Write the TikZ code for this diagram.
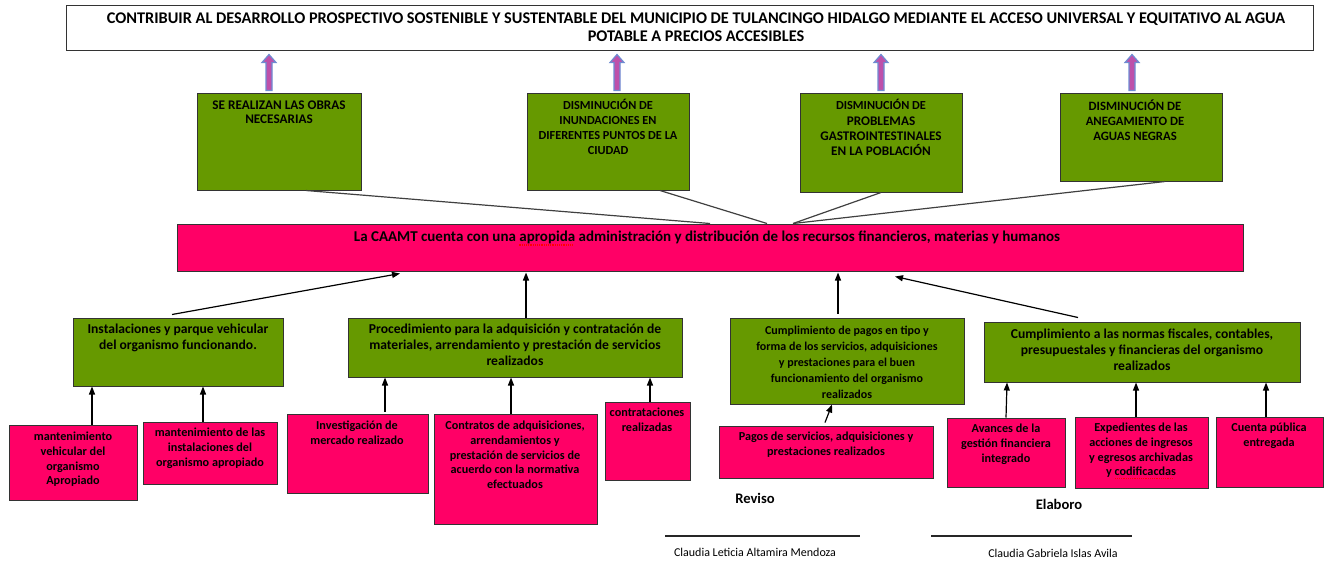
\documentclass[tikz,border=0pt]{standalone}
\usepackage{fontspec}
\setmainfont{Carlito}
\usetikzlibrary{fit,calc,arrows.meta}
\definecolor{gfill}{RGB}{102,153,0}
\definecolor{pfill}{RGB}{255,0,102}
\definecolor{afill}{RGB}{190,80,170}
\definecolor{aline}{RGB}{110,140,210}
\newcommand\spellerr[1]{\setbox0\hbox{#1}\rlap{\color{red}\leaders\hbox{\rule[-1.8pt]{0.6pt}{0.6pt}\hskip0.5pt}\hskip\wd0}\box0\relax}
\begin{document}
\begin{tikzpicture}[x=0.5pt,y=-0.5pt,
  box/.style={draw=black!80, line width=0.5pt, inner sep=0pt},
  wbox/.style={box, fill=white},
  gbox/.style={box, fill=gfill},
  pbox/.style={box, fill=pfill},
  txtbase/.style={align=center, inner sep=0pt, anchor=north},
  ttl/.style={txtbase, font=\fontsize{8.15}{9}\selectfont\bfseries},
  lone/.style={txtbase, font=\fontsize{6.4}{7.5}\selectfont\bfseries},
  mtx/.style={txtbase, font=\fontsize{7.5}{8}\selectfont\bfseries},
  ltwo/.style={txtbase, font=\fontsize{6.8}{8}\selectfont\bfseries},
  lthree/.style={txtbase, font=\fontsize{6.1}{7.3}\selectfont\bfseries},
  sig/.style={inner sep=0pt, font=\fontsize{7.3}{8}\selectfont\bfseries},
  nm/.style={inner sep=0pt, font=\fontsize{6}{7}\selectfont},
  ln/.style={line width=0.6pt, black!75},
  arr/.style={-{Triangle[length=4pt,width=3pt]}, line width=0.6pt, black},
  parr/.style={fill=afill, draw=aline, line width=0.6pt},
  sigline/.style={line width=1pt, black!85}]
\useasboundingbox (0,0) rectangle (1325,563);

% title
\node[wbox, fit={(66,5) (1313,50)}] (title) {};
\node[ttl] (titlet) at (696,12) {CONTRIBUIR AL DESARROLLO PROSPECTIVO SOSTENIBLE Y SUSTENTABLE DEL MUNICIPIO DE TULANCINGO HIDALGO MEDIANTE EL ACCESO UNIVERSAL Y EQUITATIVO AL AGUA\\POTABLE A PRECIOS ACCESIBLES};

% level 1 green
\node[gbox, fit={(197,93) (361,190)}] (g1) {};
\node[lone, font=\fontsize{6.6}{7}\selectfont\bfseries] (g1t) at (279,100) {SE REALIZAN LAS OBRAS\\NECESARIAS};
\node[gbox, fit={(527,93) (689,190)}] (g2) {};
\node[lone, font=\fontsize{6.15}{7.5}\selectfont\bfseries] (g2t) at (608,99) {DISMINUCIÓN DE\\INUNDACIONES EN\\DIFERENTES PUNTOS DE LA\\CIUDAD};
\node[gbox, fit={(800,93) (962,192)}] (g3) {};
\node[lone, font=\fontsize{6.6}{7.7}\selectfont\bfseries] (g3t) at (881,99) {{\fontsize{6.15}{7}\selectfont DISMINUCIÓN DE}\\PROBLEMAS\\GASTROINTESTINALES\\EN LA POBLACIÓN};
\node[gbox, fit={(1060,93) (1222,181)}] (g4) {};
\node[lone, font=\fontsize{6.35}{7.5}\selectfont\bfseries] (g4t) at (1135,99) {DISMINUCIÓN DE\\ANEGAMIENTO DE\\AGUAS NEGRAS};

% purple arrows
\foreach \g/\s in {g1/-5pt, g2/4.5pt, g3/0pt, g4/-4.5pt}{
  \coordinate (pa-\g) at ([xshift=\s]\g.north);
  \coordinate (pb-\g) at (pa-\g |- title.south);
  \path[parr] ($(pa-\g)+(-3,-2)$) -- ($(pb-\g)+(-3,12)$) -- ($(pb-\g)+(-7,12)$) -- ($(pb-\g)+(0,4)$) -- ($(pb-\g)+(7,12)$) -- ($(pb-\g)+(3,12)$) -- ($(pa-\g)+(3,-2)$) -- cycle;
}

% main
\node[pbox, fit={(177,224) (1243,271)}] (m) {};
\node[mtx] (mt) at (707,231) {La CAAMT cuenta con una \spellerr{apropida} administración y distribución de los recursos financieros, materias y humanos};

\draw[ln] ([xshift=13.5pt]g1.south) -- (m.north);
\draw[ln] ([xshift=26pt]g2.south) -- ([xshift=28.5pt]m.north);
\draw[ln] (g3.south) -- ([xshift=41.5pt]m.north);
\draw[ln] ([xshift=12pt]g4.south) -- ([xshift=41.5pt]m.north);

% level 2 green
\node[gbox, fit={(73,318) (283,386)}] (A) {};
\node[ltwo] (At) at (178,324) {Instalaciones y parque vehicular\\del organismo funcionando.};
\node[gbox, fit={(348,318) (682,377)}] (B) {};
\node[ltwo] (Bt) at (515,324) {Procedimiento para la adquisición y contratación de\\materiales, arrendamiento y prestación de servicios\\realizados};
\node[gbox, fit={(730,318) (964,404)}] (C) {};
\node[ltwo, font=\fontsize{6}{8}\selectfont\bfseries] (Ct) at (847,326) {Cumplimiento de pagos en tipo y\\forma de los servicios, adquisiciones\\y prestaciones para el buen\\funcionamiento del organismo\\realizados};
\node[gbox, fit={(984,322) (1300,382)}] (D) {};
\node[ltwo] (Dt) at (1142,329) {Cumplimiento a las normas fiscales, contables,\\presupuestales y financieras del organismo\\realizados};

\draw[arr] ([xshift=-3pt,yshift=1.5pt]A.north) -- ([xshift=-155pt,yshift=-1pt]m.south);
\draw[arr] ([xshift=5.5pt]B.north) -- ([xshift=-92pt,yshift=-0.5pt]m.south);
\draw[arr] ([xshift=-4.5pt,yshift=2pt]C.north) -- ([xshift=64pt,yshift=-0.5pt]m.south);
\draw[arr] ([xshift=-32pt,yshift=2pt]D.north) -- ([xshift=92.5pt,yshift=-2.5pt]m.south);

% level 3 pink
\node[pbox, fit={(9,425) (137,500)}] (a1) {};
\node[lthree] (a1t) at (73,432) {mantenimiento\\vehicular del\\organismo\\Apropiado};
\node[pbox, fit={(143,422) (277,484)}] (a2) {};
\node[lthree] (a2t) at (210,428) {mantenimiento de las\\instalaciones del\\organismo apropiado};
\node[pbox, fit={(287,414) (428,493)}] (b1) {};
\node[lthree] (b1t) at (357,421) {Investigación de\\mercado realizado};
\node[pbox, fit={(434,414) (597,524)}] (b2) {};
\node[lthree] (b2t) at (515,421) {Contratos de adquisiciones,\\arrendamientos y\\prestación de servicios de\\acuerdo con la normativa\\efectuados};
\node[pbox, fit={(605,402) (690,480)}] (b3) {};
\node[lthree] (b3t) at (647,408) {contrataciones\\realizadas};
\node[pbox, fit={(719,426) (933,478)}] (c1) {};
\node[lthree] (c1t) at (826,432) {Pagos de servicios, adquisiciones y\\prestaciones realizados};
\node[pbox, fit={(947,418) (1065,487)}] (d1) {};
\node[lthree] (d1t) at (1006,424) {Avances de la\\gestión financiera\\integrado};
\node[pbox, fit={(1075,417) (1208,488)}] (d2) {};
\node[lthree] (d2t) at (1141,423) {Expedientes de las\\acciones de ingresos\\y egresos archivadas\\y \spellerr{codificacdas}};
\node[pbox, fit={(1216,417) (1323,487)}] (d3) {};
\node[lthree] (d3t) at (1269,423) {Cuenta pública\\entregada};

\draw[arr] ([xshift=9.5pt]a1.north) -- ([xshift=-43pt]A.south);
\draw[arr] ([xshift=-3.5pt]a2.north) -- ([xshift=12.5pt]A.south);
\draw[arr] ([xshift=13.75pt,yshift=1pt]b1.north) -- ([xshift=-65pt]B.south);
\draw[arr] ([xshift=-2.25pt]b2.north) -- ([xshift=-2pt]B.south);
\draw[arr] ([xshift=1.25pt]b3.north) -- ([xshift=67.5pt]B.south);
\draw[arr] ([xshift=-0.5pt,yshift=1.5pt]c1.north) -- ([xshift=-7.5pt]C.south);
\draw[arr] (d1.north) -- ([xshift=-67.5pt]D.south);
\draw[arr] ([xshift=-2.75pt]d2.north) -- ([xshift=-3pt]D.south);
\draw[arr] ([xshift=-1.75pt]d3.north) -- ([xshift=62pt]D.south);

% signatures
\node[sig] (rev) at (755,498) {Reviso};
\node[sig] (ela) at (1059,504) {Elaboro};
\coordinate (s1a) at (665,536);
\coordinate (s1b) at (860,536);
\coordinate (s2a) at (931,536);
\coordinate (s2b) at (1132,536);
\draw[sigline] (s1a) -- (s1b);
\draw[sigline] (s2a) -- (s2b);
\node[nm] (n1) at (755,552) {Claudia Leticia Altamira Mendoza};
\node[nm] (n2) at (1053,553) {Claudia Gabriela Islas Avila};
\end{tikzpicture}
\end{document}
